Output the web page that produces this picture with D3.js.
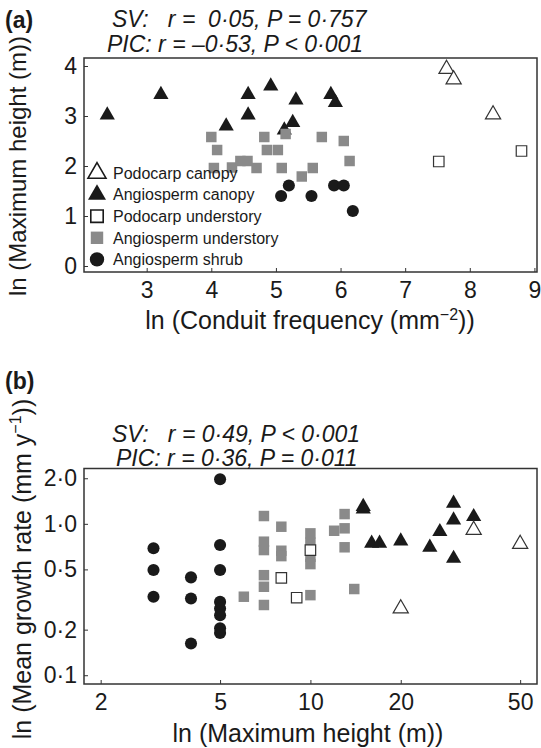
<!DOCTYPE html>
<html>
<head>
<meta charset="utf-8">
<script src="https://cdnjs.cloudflare.com/ajax/libs/d3/7.8.5/d3.min.js"></script>
<style>
body { margin: 0; background: #fff; }
svg text { font-family: "Liberation Sans", Arial, sans-serif; fill: #1a1a1a; }
.stat { font-style: italic; font-size: 23px; white-space: pre; }
.tick text { font-size: 23px; }
</style>
</head>
<body>
<svg id="chart" width="541" height="748"></svg>
<script>
// panel (a): ln conduit frequency (x) vs ln maximum height (y)
var aPodocarpCanopy = [[7.64,3.94],[7.75,3.73],[8.36,3.03]];
var aAngioCanopy = [[2.39,3.02],[3.22,3.43],[4.23,2.80],[4.57,3.43],[4.57,3.02],[4.92,3.60],
                    [5.31,3.32],[5.85,3.43],[5.92,3.27],[5.26,2.87],[5.13,2.72]];
var aPodocarpUnder = [[7.52,2.09],[8.80,2.30]];
var aAngioUnder = [[4.00,2.58],[4.09,2.32],[4.04,1.96],[4.32,1.97],[4.45,2.10],[4.56,2.10],
                   [4.70,1.96],[4.82,2.58],[4.86,2.32],[5.03,2.32],[5.09,1.96],[5.15,2.64],
                   [5.40,1.79],[5.57,1.96],[5.71,2.58],[6.05,2.50],[6.14,2.10]];
var aAngioShrub = [[5.08,1.40],[5.20,1.61],[5.55,1.40],[5.90,1.61],[6.05,1.61],[6.19,1.10]];
var aXTicks = [3,4,5,6,7,8,9];
var aYTicks = [0,1,2,3,4];

// panel (b): maximum height (x, m) vs mean growth rate (y, mm/y), log axes
var bPodocarpCanopy = [[35,0.91],[50,0.735],[20,0.276]];
var bAngioCanopy = [[15,1.30],[15,1.25],[16,0.743],[17,0.743],[20,0.769],[30,1.366],[30,1.06],
                    [35,1.114],[27,0.887],[25,0.699],[30,0.591]];
var bPodocarpUnder = [[8,0.44],[9,0.325],[10,0.671]];
var bAngioUnder = [[6,0.33],[7,1.126],[7,0.762],[7,0.671],[7,0.458],[7,0.384],[7,0.291],
                   [8,0.957],[8,0.664],[8,0.612],[10,0.865],[10,0.750],[10,0.606],[10,0.542],
                   [10,0.338],[12,0.90],[13,1.16],[13,0.934],[13,0.70],[14,0.371]];
var bAngioShrub = [[3,0.689],[3,0.495],[3,0.33],[4,0.443],[4,0.321],[4,0.162],
                   [5,1.97],[5,0.724],[5,0.495],[5,0.305],[5,0.276],[5,0.249],[5,0.204],[5,0.19]];
var bXTicks = [2,5,10,20,50];
var bYTicks = [0.1,0.2,0.5,1,2];

var legendLabels = ["Podocarp canopy","Angiosperm canopy","Podocarp understory","Angiosperm understory","Angiosperm shrub"];

var svg = d3.select("#chart");
var ink = "#1a1a1a", grey = "#8a8a8a";

// marker styles, keyed by group
var styles = {
    podoCanopy: {type: d3.symbolTriangle, size: 100, fill: "#fff", stroke: "#333"},
    angioCanopy: {type: d3.symbolTriangle, size: 100, fill: ink, stroke: "none"},
    podoUnder: {type: d3.symbolSquare, size: 110, fill: "#fff", stroke: "#333"},
    angioUnder: {type: d3.symbolSquare, size: 110, fill: grey, stroke: "none"},
    angioShrub: {type: d3.symbolCircle, size: 115, fill: ink, stroke: "none"}
};

function dot(g, pts, st, x, y) {
    g.selectAll(null).data(pts).enter().append("path")
        .attr("d", d3.symbol().type(st.type).size(st.size))
        .attr("transform", function(d){ return "translate(" + x(d[0]) + "," + y(d[1]) + ")"; })
        .attr("fill", st.fill).attr("stroke", st.stroke).attr("stroke-width", 1.2);
}

function frame(x, y) {
    var r = x.range(), t = y.range();
    svg.append("rect").attr("x", r[0]).attr("y", t[1])
        .attr("width", r[1] - r[0]).attr("height", t[0] - t[1])
        .attr("fill", "none").attr("stroke", "#333").attr("stroke-width", 1.5);
}

function axes(x, y, xt, yt, xf, yf) {
    var gx = svg.append("g").attr("transform", "translate(0," + y.range()[0] + ")")
        .call(d3.axisBottom(x).tickValues(xt).tickFormat(xf).tickSizeInner(-4).tickSizeOuter(0).tickPadding(10));
    var gy = svg.append("g").attr("transform", "translate(" + x.range()[0] + ",0)")
        .call(d3.axisLeft(y).tickValues(yt).tickFormat(yf).tickSizeInner(-4).tickSizeOuter(0).tickPadding(7));
    [gx, gy].forEach(function(g){
        g.select(".domain").remove();
        g.selectAll(".tick line").attr("stroke", "#333");
        g.selectAll(".tick text").attr("fill", ink);
    });
}

function stat(x, y, s) {
    svg.append("text").attr("class", "stat").attr("x", x).attr("y", y).text(s);
}

// ---------- panel (a)
var xa = d3.scaleLinear().domain([2.03, 9.04]).range([84, 537]);
var ya = d3.scaleLinear().domain([-0.12, 4.16]).range([272, 58]);

var ga = svg.append("g");
dot(ga, aAngioCanopy, styles.angioCanopy, xa, ya);
dot(ga, aAngioUnder, styles.angioUnder, xa, ya);
dot(ga, aAngioShrub, styles.angioShrub, xa, ya);
dot(ga, aPodocarpCanopy, styles.podoCanopy, xa, ya);
dot(ga, aPodocarpUnder, styles.podoUnder, xa, ya);
frame(xa, ya);
axes(xa, ya, aXTicks, aYTicks, d3.format("d"), d3.format("d"));

// legend
var legKeys = ["podoCanopy","angioCanopy","podoUnder","angioUnder","angioShrub"];
var leg = svg.append("g").selectAll("g").data(legendLabels).enter().append("g")
    .attr("transform", function(d, i){ return "translate(97," + (173 + i * 21.6) + ")"; });
leg.append("path")
    .attr("d", function(d, i){ var st = styles[legKeys[i]]; return d3.symbol().type(st.type).size(st.size * 1.4)(); })
    .attr("fill", function(d, i){ return styles[legKeys[i]].fill; })
    .attr("stroke", function(d, i){ return styles[legKeys[i]].stroke == "none" ? "none" : "#1a1a1a"; })
    .attr("stroke-width", 1.6);
leg.append("text").attr("x", 16).attr("dy", "0.36em").style("font-size", "16px").text(function(d){ return d; });

svg.append("text").attr("x", 5).attr("y", 28).style("font-weight", "bold").style("font-size", "23px").text("(a)");
stat(112, 27, "SV:   r =  0\u00b705, P = 0\u00b7757");
stat(107, 52, "PIC: r = \u20130\u00b753, P < 0\u00b7001");

var xta = svg.append("text").attr("x", 310).attr("y", 329).attr("text-anchor", "middle").style("font-size", "25px");
xta.append("tspan").text("ln (Conduit frequency (mm");
xta.append("tspan").attr("dy", -9).style("font-size", "16px").text("\u22122");
xta.append("tspan").attr("dy", 9).text("))");

svg.append("text").attr("transform", "translate(26,166) rotate(-90)").attr("text-anchor", "middle")
    .style("font-size", "24px").text("ln (Maximum height (m))");

// ---------- panel (b)
var xb = d3.scaleLog().domain([1.76, 56.9]).range([84, 537]);
var yb = d3.scaleLog().domain([0.0875, 2.32]).range([684, 468.5]);

var gb = svg.append("g");
dot(gb, bAngioCanopy, styles.angioCanopy, xb, yb);
dot(gb, bAngioUnder, styles.angioUnder, xb, yb);
dot(gb, bAngioShrub, styles.angioShrub, xb, yb);
dot(gb, bPodocarpCanopy, styles.podoCanopy, xb, yb);
dot(gb, bPodocarpUnder, styles.podoUnder, xb, yb);
frame(xb, yb);
axes(xb, yb, bXTicks, bYTicks, d3.format("d"), function(d){ return d3.format(".1f")(d).replace(".", "\u00b7"); });

svg.append("text").attr("x", 5).attr("y", 389).style("font-weight", "bold").style("font-size", "23px").text("(b)");
stat(112, 442, "SV:   r = 0\u00b749, P < 0\u00b7001");
stat(116, 466, "PIC: r = 0\u00b736, P = 0\u00b7011");

svg.append("text").attr("x", 308).attr("y", 742).attr("text-anchor", "middle")
    .style("font-size", "25px").text("ln (Maximum height (m))");

var yt = svg.append("text").attr("transform", "translate(31,569) rotate(-90)").attr("text-anchor", "middle")
    .style("font-size", "25px");
yt.append("tspan").text("ln (Mean growth rate (mm y");
yt.append("tspan").attr("dy", -10).style("font-size", "16px").text("\u22121");
yt.append("tspan").attr("dy", 10).text("))");
</script>
</body>
</html>
